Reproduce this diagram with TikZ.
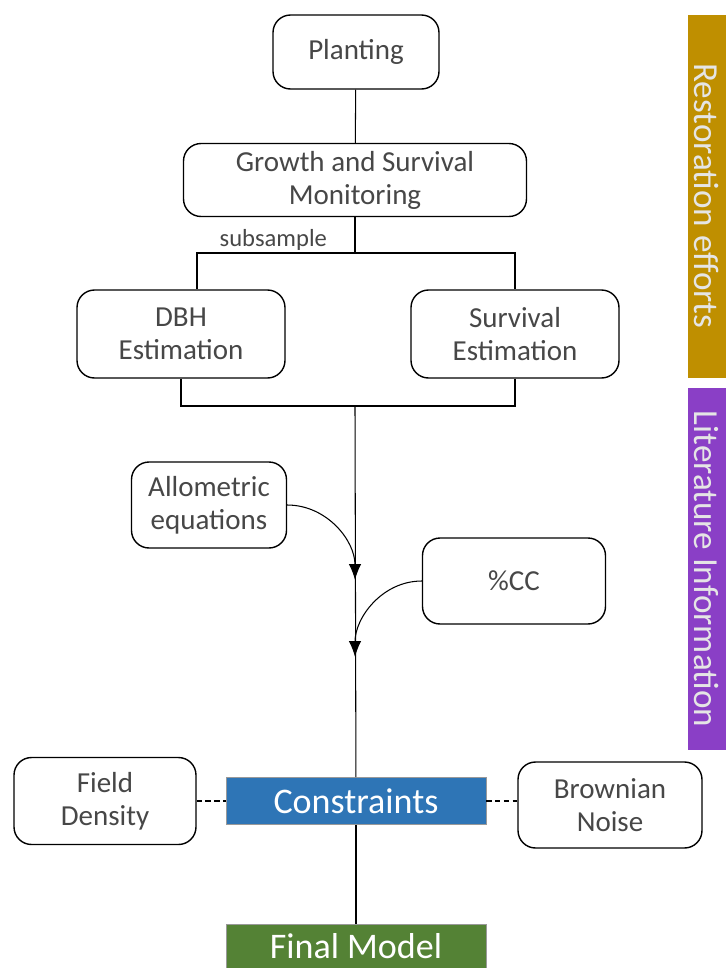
\documentclass[tikz,border=0pt]{standalone}
\usepackage{fontspec}
\setmainfont{Carlito}
\usetikzlibrary{arrows.meta}
\definecolor{boxtext}{HTML}{474747}
\definecolor{consblue}{HTML}{2E75B6}
\definecolor{modelgreen}{HTML}{548235}
\definecolor{restgold}{HTML}{BF8F00}
\definecolor{litpurple}{HTML}{8A3FC6}
\tikzset{
  stepbox/.style={draw=black, thick, rounded corners=10pt, fill=white, text=boxtext,
    align=center, font=\fontsize{16.5}{18.7}\selectfont, inner sep=0pt},
  keybox/.style={draw=black!40, fill=#1, text=white, inner sep=0pt,
    font=\fontsize{20.5}{24}\selectfont, minimum width=260*0.02cm, minimum height=47*0.02cm},
  sidebar/.style={fill=#1, text=white!90!black, rotate=-90, inner sep=0pt,
    font=\fontsize{20}{24}\selectfont, minimum height=38*0.02cm},
  link/.style={draw=black, semithick},
  feed/.style={draw=black, semithick, -{Latex[length=9pt,width=7pt]}},
}

\begin{document}
\begin{tikzpicture}[x=0.02cm, y=-0.02cm]
\useasboundingbox (0,0) rectangle (726,968);
% restoration part
\node[stepbox, minimum width=166*0.02cm, minimum height=74*0.02cm] (plant) at (356,52) {Planting};
\node[stepbox, minimum width=343*0.02cm, minimum height=73*0.02cm] (grow) at (355,180) {Growth and Survival\\Monitoring};
\node[stepbox, minimum width=208*0.02cm, minimum height=88*0.02cm] (dbh) at (181,334) {DBH\\Estimation};
\node[stepbox, minimum width=208*0.02cm, minimum height=88*0.02cm] (surv) at (515,334) {Survival\\Estimation};
\coordinate (split) at (355,253);
\coordinate (join) at (355,406);
\node[text=boxtext, font=\fontsize{14}{16}\selectfont, anchor=south east, inner sep=1pt] (sub) at ([xshift=-26*0.02cm]split) {subsample};
\draw[link] (plant) -- (grow);
\draw[link] (grow) -- (split);
\draw[link] (split) -| ([xshift=16*0.02cm]dbh.north);
\draw[link] (split) -| (surv.north);
\draw[link] (dbh.south) |- (join);
\draw[link] (surv.south) |- (join);
% literature part
\node[stepbox, minimum width=155*0.02cm, minimum height=86*0.02cm] (allo) at (209,505) {Allometric\\equations};
\node[stepbox, minimum width=183*0.02cm, minimum height=86*0.02cm] (cc) at (514,581) {\%CC};
\coordinate (in1) at (355,580);
\coordinate (in2) at (355,657);
\node[keybox=consblue] (cons) at (356,801) {Constraints};
\node[keybox=modelgreen, minimum height=44*0.02cm] (model) at (356,946) {Final Model};
\draw[link] (join) -- (cons);
\draw[link] (cons) -- (model);
\draw[feed] (allo.east) to[out=0, in=90] (in1);
\draw[feed] (cc.west) to[out=180, in=90] (in2);
\node[stepbox, minimum width=182*0.02cm, minimum height=87*0.02cm] (dens) at (105,801) {Field\\Density};
\node[stepbox, minimum width=184*0.02cm, minimum height=86*0.02cm] (noise) at (610,805) {Brownian\\Noise};
\draw[link, densely dashed] (dens) -- (cons);
\draw[link, densely dashed] (cons) -- (cons -| noise.west);
% side bars
\node[sidebar=restgold, minimum width=363*0.02cm] (rest) at (707,196) {Restoration efforts};
\node[sidebar=litpurple, minimum width=362*0.02cm] (lit) at (707,569) {Literature Information};
\end{tikzpicture}
\end{document}
